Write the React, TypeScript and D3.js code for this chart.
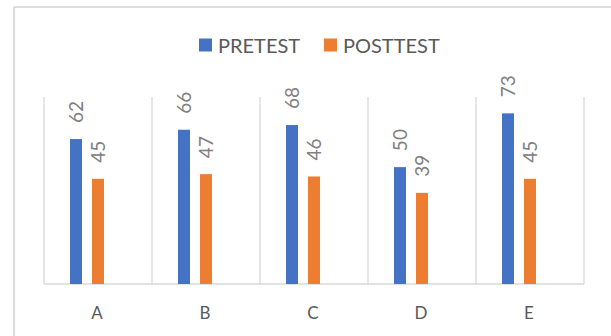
import React from "react";
import * as d3 from "d3";

const categories = ["A", "B", "C", "D", "E"];
const seriesNames = ["PRETEST", "POSTTEST"];
const pretest = [62, 66, 68, 50, 73];
const posttest = [45, 47, 46, 39, 45];
const seriesColors = ["#4472C4", "#ED7D31"];

const W = 611;
const H = 336;
const FONT = "Lato, 'Open Sans', sans-serif";

export default function App() {
  const values = [pretest, posttest];
  const x0 = d3.scaleBand<string>().domain(categories).range([44, 584]).padding(0);
  const x1 = d3
    .scaleBand<string>()
    .domain(seriesNames)
    .range([21, 65])
    .paddingInner(10 / 22)
    .paddingOuter(5 / 22);
  const y = d3.scaleLinear().domain([0, 80]).range([284, 97]);
  const gridXs = categories.map((c) => x0(c)!).concat([x0.range()[1]]);

  return (
    <svg
      width={W}
      height={H}
      style={{ position: "absolute", left: 0, top: 0, background: "#fff" }}
      fontFamily={FONT}
    >
      <rect x={0} y={0} width={W} height={H} fill="#fff" />
      <line x1={14} x2={W} y1={7} y2={7} stroke="#d0d0d0" strokeWidth={1.5} />
      <line x1={14} x2={14} y1={7} y2={H} stroke="#d0d0d0" strokeWidth={1.5} />
      {/* legend */}
      {seriesNames.map((s, i) => {
        const lx = [199, 324][i];
        return (
          <g key={s}>
            <rect x={lx} y={38.5} width={13} height={13} fill={seriesColors[i]} />
            <text x={lx + 19} y={52.5} fontSize={20} fill="#595959">
              {s}
            </text>
          </g>
        );
      })}
      {/* gridlines */}
      {gridXs.map((gx, i) => (
        <line key={i} x1={gx} x2={gx} y1={y(80)} y2={y(0)} stroke="#d9d9d9" strokeWidth={1.3} />
      ))}
      <line x1={44} x2={584} y1={y(0)} y2={y(0)} stroke="#d9d9d9" strokeWidth={1.5} />
      {/* bars */}
      {categories.map((c, ci) => (
        <g key={c} transform={`translate(${x0(c)},0)`}>
          {seriesNames.map((s, si) => {
            const v = values[si][ci];
            const bx = x1(s)!;
            const bw = x1.bandwidth();
            const cx = bx + bw / 2;
            const top = y(v);
            return (
              <g key={s}>
                <rect x={bx} y={top} width={bw} height={y(0) - top} fill={seriesColors[si]} />
                <text
                  transform={`translate(${cx},${top - 16}) rotate(-90)`}
                  dy="0.36em"
                  fontSize={19}
                  fill="#808080"
                >
                  {v}
                </text>
              </g>
            );
          })}
          <text x={x0.bandwidth() / 2 - 1} y={319} textAnchor="middle" fontSize={17} fill="#595959">
            {c}
          </text>
        </g>
      ))}
    </svg>
  );
}
